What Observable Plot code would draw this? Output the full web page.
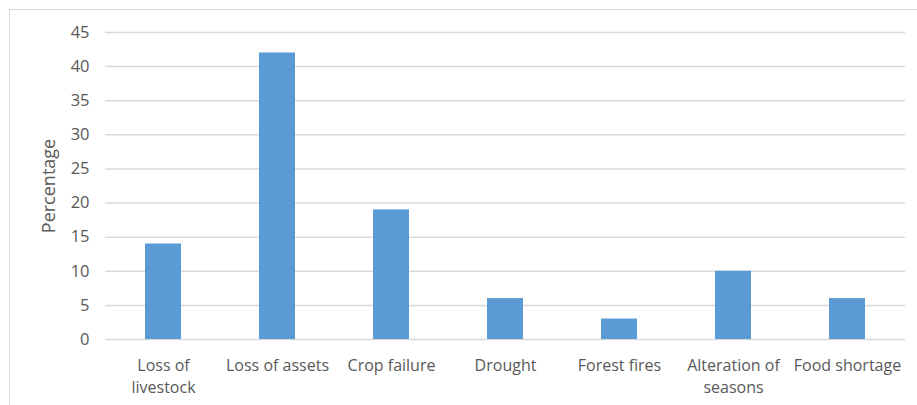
<!DOCTYPE html>
<html><head><meta charset="utf-8">
<script src="https://cdn.jsdelivr.net/npm/d3@7"></script>
<script src="https://cdn.jsdelivr.net/npm/@observablehq/plot@0.6"></script>
<style>
body{margin:0;background:#fff;}
#wrap{position:relative;width:917px;height:405px;overflow:hidden;}
#border{position:absolute;left:9px;top:9px;width:1000px;height:1000px;border:1px solid #d9d9d9;box-sizing:border-box;}
#chart{position:absolute;left:0;top:0;}
</style></head><body>
<div id="wrap"><div id="border"></div><div id="chart"></div></div>
<script>
const categories = ["Loss of livestock", "Loss of assets", "Crop failure", "Drought", "Forest fires", "Alteration of seasons", "Food shortage"];
const values = [14, 42, 19, 6, 3, 10, 6];
const tickLabels = ["Loss of\nlivestock", "Loss of assets", "Crop failure", "Drought", "Forest fires", "Alteration of\nseasons", "Food shortage"];
const yTicks = [0, 5, 10, 15, 20, 25, 30, 35, 40, 45];
const yLabel = "Percentage";

const data = categories.map((c, i) => ({category: c, value: values[i]}));

const plot = Plot.plot({
  width: 917, height: 405,
  marginLeft: 105, marginRight: 12, marginTop: 32, marginBottom: 66,
  style: {background: "transparent", fontFamily: "'Open Sans', sans-serif", fontSize: "16px", color: "#595959"},
  x: {domain: categories, paddingInner: 0.685, paddingOuter: 0.3425, label: null},
  y: {domain: [0, 45], label: null},
  marks: [
    Plot.gridY(yTicks, {stroke: "#d9d9d9", strokeOpacity: 1, strokeWidth: 1.5}),
    Plot.barY(data, {x: "category", y: "value", fill: "#5b9bd5"}),
    Plot.axisY({ticks: yTicks, tickSize: 0, tickPadding: 16, label: null, fontSize: 16.5}),
    Plot.text([yLabel], {frameAnchor: "left", textAnchor: "middle", rotate: -90, dx: -56, fontSize: 18, fill: "#595959"}),
    Plot.axisX({tickSize: 0, tickPadding: 16, tickFormat: d => tickLabels[categories.indexOf(d)], lineHeight: 1.38})
  ]
});
document.getElementById("chart").appendChild(plot);
</script>
</body></html>
